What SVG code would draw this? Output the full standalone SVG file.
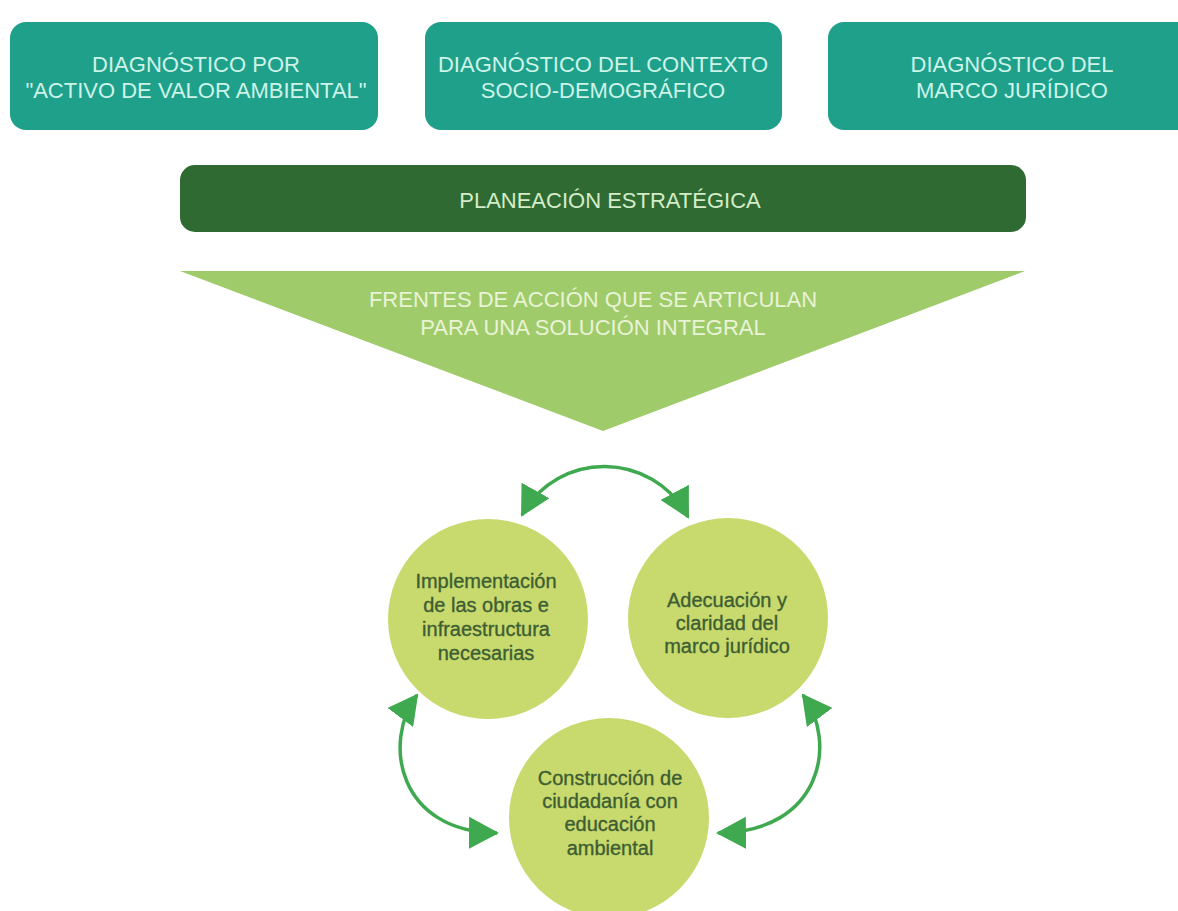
<svg xmlns="http://www.w3.org/2000/svg" width="1178" height="911" viewBox="0 0 1178 911">
  <defs>
    <style>
      .diag rect { fill: #1fa08b; }
      .diag text { fill: #cdf4e8; font-family: "Liberation Sans", Arial, sans-serif; font-size: 22px; text-anchor: middle; }
      .plan text { fill: #d4ecc9; font-family: "Liberation Sans", Arial, sans-serif; font-size: 22px; text-anchor: middle; }
      .tri text { fill: #e9f3d6; font-family: "Liberation Sans", Arial, sans-serif; font-size: 22px; text-anchor: middle; }
      .circ circle { fill: #c8d96d; }
      .circ text { fill: #3d5e33; stroke: #3d5e33; stroke-width: 0.35; font-family: "Liberation Sans", Arial, sans-serif; font-size: 20px; text-anchor: middle; }
      .conn path { fill: none; stroke: #3fa94f; stroke-width: 3.5; }
    </style>
    <marker id="ah" viewBox="0 0 30 32" refX="28" refY="16" markerWidth="30" markerHeight="32" markerUnits="userSpaceOnUse" orient="auto-start-reverse">
      <path d="M0,0 L30,16 L0,32 z" fill="#3fa94f"/>
    </marker>
  </defs>
  <rect width="1178" height="911" fill="#ffffff"/>

  <g id="diag1" class="diag">
    <rect x="10" y="22" width="368" height="108" rx="16"/>
    <text x="196" y="72">DIAGNÓSTICO POR</text>
    <text x="196" y="98">"ACTIVO DE VALOR AMBIENTAL"</text>
  </g>
  <g id="diag2" class="diag">
    <rect x="425" y="22" width="357" height="108" rx="16"/>
    <text x="603" y="72">DIAGNÓSTICO DEL CONTEXTO</text>
    <text x="603" y="98">SOCIO-DEMOGRÁFICO</text>
  </g>
  <g id="diag3" class="diag">
    <rect x="828" y="22" width="368" height="108" rx="16"/>
    <text x="1012" y="72">DIAGNÓSTICO DEL</text>
    <text x="1012" y="98">MARCO JURÍDICO</text>
  </g>

  <g id="planeacion" class="plan">
    <rect x="180" y="165" width="846" height="67" rx="15" fill="#2f6a32"/>
    <text x="610" y="208">PLANEACIÓN ESTRATÉGICA</text>
  </g>

  <g id="frentes" class="tri">
    <polygon points="180,271 1025,271 603,431" fill="#9fcb6b"/>
    <text x="593" y="307">FRENTES DE ACCIÓN QUE SE ARTICULAN</text>
    <text x="593" y="335">PARA UNA SOLUCIÓN INTEGRAL</text>
  </g>

  <g id="connectors" class="conn">
    <path d="M522,515 C558,450 652,450 688,517" marker-start="url(#ah)" marker-end="url(#ah)"/>
    <path d="M417,695 C382,742 398,832 497,833" marker-start="url(#ah)" marker-end="url(#ah)"/>
    <path d="M803,695 C838,742 822,832 718,833" marker-start="url(#ah)" marker-end="url(#ah)"/>
  </g>

  <g id="implementacion" class="circ">
    <circle cx="488" cy="619" r="100"/>
    <text x="486" y="588">Implementación</text>
    <text x="486" y="612">de las obras e</text>
    <text x="486" y="636">infraestructura</text>
    <text x="486" y="660">necesarias</text>
  </g>
  <g id="adecuacion" class="circ">
    <circle cx="728" cy="618" r="100"/>
    <text x="727" y="607">Adecuación y</text>
    <text x="727" y="630">claridad del</text>
    <text x="727" y="653">marco jurídico</text>
  </g>
  <g id="construccion" class="circ">
    <circle cx="609" cy="818" r="100"/>
    <text x="610" y="785">Construcción de</text>
    <text x="610" y="808">ciudadanía con</text>
    <text x="610" y="831">educación</text>
    <text x="610" y="855">ambiental</text>
  </g>
</svg>
